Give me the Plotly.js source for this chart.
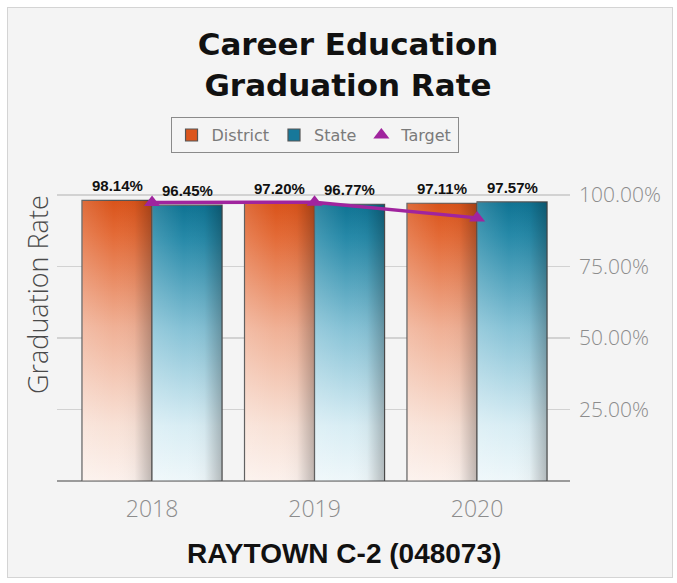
<!DOCTYPE html>
<html>
<head>
<meta charset="utf-8">
<script src="https://cdn.plot.ly/plotly-3.0.1.min.js"></script>
<style>
  html, body { margin: 0; padding: 0; background: #ffffff; }
  #card { position: absolute; left: 7px; top: 7px; width: 664px; height: 569px;
          border: 1px solid #d4d4d4; background: #f4f4f4; }
  #chart { width: 664px; height: 569px; }
</style>
</head>
<body>
<div id="card"><div id="chart"></div></div>
<script>
// ---- data ----
const years = ['2018', '2019', '2020'];
const district = [98.14, 97.20, 97.11];
const state = [96.45, 96.77, 97.57];
const target = [97.4, 97.5, 92.0];
const yTickVals = [25, 50, 75, 100];
const yTickText = ['25.00%', '50.00%', '75.00%', '100.00%'];
const chartTitle = 'Career Education<br>Graduation Rate';
const xTitle = 'RAYTOWN C-2 (048073)';
const yTitle = 'Graduation Rate';

const fmt = v => v.toFixed(2) + '%';

const traces = [
  { type: 'bar', name: 'District', x: years, y: district,
    marker: { color: '#dc561d', line: { color: '#555555', width: 1.2 } },
    hoverinfo: 'skip' },
  { type: 'bar', name: 'State', x: years, y: state,
    marker: { color: '#17789a', line: { color: '#555555', width: 1.2 } },
    hoverinfo: 'skip' },
  { type: 'scatter', mode: 'lines+markers', name: 'Target', x: years, y: target,
    line: { color: '#a0249e', width: 3.5 },
    marker: { symbol: 'triangle-up', size: 14, color: '#a0249e' },
    hoverinfo: 'skip' }
];

const labelFont = { family: '"Liberation Sans Narrow", "Liberation Sans", Arial, sans-serif', size: 15, color: '#111111', weight: 700 };
const annotations = [];
years.forEach((yr, i) => {
  annotations.push({ x: i, y: district[i], xref: 'x', yref: 'y', text: fmt(district[i]),
    showarrow: false, xshift: -35, yshift: 4, yanchor: 'bottom', font: labelFont });
  annotations.push({ x: i, y: state[i], xref: 'x', yref: 'y', text: fmt(state[i]),
    showarrow: false, xshift: 35, yshift: 4, yanchor: 'bottom', font: labelFont });
});
annotations.push({ text: yTitle, xref: 'paper', yref: 'paper', x: -0.037, y: 0.618,
  xanchor: 'center', yanchor: 'middle', textangle: -90, showarrow: false,
  font: { family: '"Open Sans", sans-serif', size: 27, color: '#4a4a4a', weight: 300 } });
annotations.push({ text: xTitle, xref: 'paper', yref: 'paper', x: 0.559, y: -0.2425,
  xanchor: 'center', yanchor: 'middle', showarrow: false,
  font: { family: '"Liberation Sans", Arial, sans-serif', size: 28, color: '#111111', weight: 700 } });

const layout = {
  width: 664, height: 569,
  paper_bgcolor: '#f4f4f4', plot_bgcolor: '#f4f4f4',
  margin: { l: 49, r: 102, t: 172, b: 96, pad: 0 },
  title: { text: chartTitle, x: 0.512, xanchor: 'center', y: 0.917, yanchor: 'top',
    font: { family: '"DejaVu Sans", Verdana, sans-serif', size: 31, color: '#111111', weight: 700 } },
  barmode: 'group', bargap: 0.138, bargroupgap: 0,
  showlegend: true,
  legend: { orientation: 'h', x: 0.502, xanchor: 'center', y: 1.209, yanchor: 'top',
    bgcolor: 'rgba(0,0,0,0)', bordercolor: '#8a8a8a', borderwidth: 1,
    font: { family: '"DejaVu Sans", Verdana, sans-serif', size: 16, color: '#7a7a7a' },
    traceorder: 'normal' },
  xaxis: { type: 'category', range: [-0.585, 2.572], showgrid: false, zeroline: false,
    showline: false, ticks: '', ticklabelstandoff: 12,
    tickfont: { family: '"Open Sans", sans-serif', size: 23, color: '#8c8c8c', weight: 300 } },
  yaxis: { range: [0, 105.245], side: 'right', tickvals: yTickVals, ticktext: yTickText,
    showgrid: true, gridcolor: '#d2d2d2', gridwidth: 1.5,
    zeroline: true, zerolinecolor: '#9a9a9a', zerolinewidth: 2.5,
    showline: false, ticks: '', ticklabelstandoff: 8,
    tickfont: { family: '"Open Sans", sans-serif', size: 21, color: '#8c8c8c', weight: 300 } },
  annotations: annotations
};

Plotly.newPlot('chart', traces, layout, { displayModeBar: false, staticPlot: true }).then(gd => {
  const NS = 'http://www.w3.org/2000/svg';
  const svg = gd.querySelector('.main-svg');
  let defs = svg.querySelector('defs');
  if (!defs) { defs = document.createElementNS(NS, 'defs'); svg.insertBefore(defs, svg.firstChild); }
  function grad(id, x2, y2, stops) {
    const g = document.createElementNS(NS, 'linearGradient');
    g.setAttribute('id', id);
    g.setAttribute('x1', '0'); g.setAttribute('y1', '0');
    g.setAttribute('x2', x2); g.setAttribute('y2', y2);
    stops.forEach(s => {
      const st = document.createElementNS(NS, 'stop');
      st.setAttribute('offset', s[0]);
      st.setAttribute('stop-color', s[1]);
      st.setAttribute('stop-opacity', s[2] === undefined ? 1 : s[2]);
      g.appendChild(st);
    });
    defs.appendChild(g);
  }
  grad('gDistrict', '0', '1', [[0, '#d9531a'], [0.12, '#e36a36'], [0.45, '#f0b095'], [0.8, '#f8e1d6'], [1, '#fcf1ec']]);
  grad('gState', '0', '1', [[0, '#0f7393'], [0.12, '#2689a8'], [0.45, '#86c2d6'], [0.8, '#d8edf4'], [1, '#eef7fa']]);
  grad('gShade', '1', '0', [[0, '#ffffff', 0.15], [0.45, '#ffffff', 0], [0.75, '#000000', 0.03], [1, '#000000', 0.25]]);
  const fills = ['url(#gDistrict)', 'url(#gState)'];
  gd.querySelectorAll('.barlayer .trace').forEach((tg, ti) => {
    tg.querySelectorAll('.point path').forEach(p => {
      p.style.fill = fills[ti];
      const c = p.cloneNode(true);
      c.style.fill = 'url(#gShade)';
      c.style.stroke = 'none';
      c.style.strokeWidth = '0';
      p.parentNode.insertBefore(c, p.nextSibling);
    });
  });
  const legItems = gd.querySelectorAll('.legend .traces');
  if (legItems[2]) {
    legItems[2].querySelectorAll('.legendlines path').forEach(p => p.style.display = 'none');
  }
});
</script>
</body>
</html>
